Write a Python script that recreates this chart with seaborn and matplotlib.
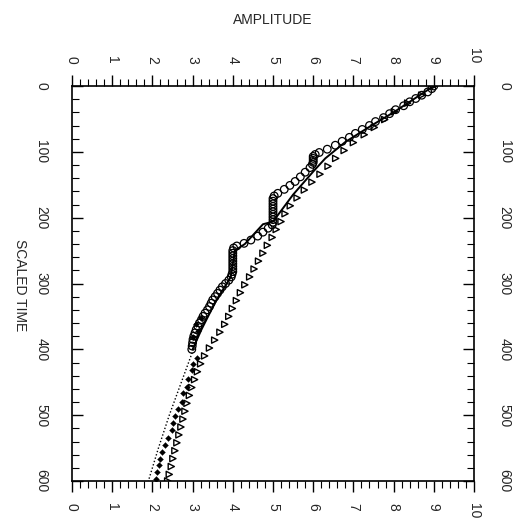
import numpy as np
import matplotlib
matplotlib.use("Agg")
import matplotlib.pyplot as plt
import seaborn as sns
from matplotlib.ticker import MultipleLocator

# ---- data (time, amplitude) ----
circ_t = [0, 4, 9, 14, 19, 24, 30, 36, 42, 48, 54, 60, 66, 72, 78, 84, 90, 96, 101,
          104, 107, 110, 113, 116, 119, 124, 131, 138, 145, 151, 157, 163, 167,
          171, 175, 179, 183, 187, 191, 195, 199, 203, 207, 211, 216, 222, 228, 234,
          239, 243, 246, 250, 254, 258, 262, 266, 270, 274, 278, 282, 286, 290,
          295, 300, 305, 310, 315, 320, 325, 330, 335, 340, 345, 350, 355, 360,
          365, 370, 375, 380, 385, 390, 395, 400]
circ_a = [9.0, 8.95, 8.85, 8.7, 8.55, 8.4, 8.25, 8.05, 7.9, 7.75, 7.55, 7.4, 7.22, 7.05, 6.9, 6.72, 6.55, 6.35, 6.15,
          6.05, 6.0, 6.0, 6.0, 6.0, 5.98, 5.92, 5.8, 5.68, 5.55, 5.42, 5.28, 5.12, 5.03,
          5.0, 5.0, 5.0, 5.0, 5.0, 5.0, 5.0, 5.0, 5.0, 5.0, 4.98, 4.88, 4.75, 4.62, 4.45,
          4.28, 4.1, 4.02, 4.0, 4.0, 4.0, 4.0, 4.0, 4.0, 4.0, 4.0, 4.0, 3.98, 3.96,
          3.9, 3.82, 3.74, 3.68, 3.62, 3.56, 3.5, 3.46, 3.42, 3.37, 3.31, 3.26, 3.22, 3.17,
          3.13, 3.09, 3.06, 3.03, 3.01, 3.0, 2.99, 2.98]

line_t = [0, 20, 40, 60, 85, 110, 130, 165, 206, 210, 240, 250, 290, 330, 370, 400]
line_a = [9.0, 8.5, 8.0, 7.45, 6.8, 6.3, 6.0, 5.5, 5.0, 4.75, 4.3, 4.05, 3.95, 3.55, 3.22, 3.0]

tri_t = [0, 14, 26, 39, 51, 63, 74, 86, 98, 110, 122, 134, 146, 158, 170, 182, 194,
         206, 218, 230, 242, 254, 266, 278, 290, 302, 314, 326, 338, 350, 362, 374,
         386, 398, 410, 422, 434, 446, 458, 470, 482, 494, 506, 518, 530, 542, 554,
         566, 578, 590, 600]
tri_a = [9.0, 8.7, 8.35, 8.02, 7.78, 7.52, 7.27, 7.0, 6.77, 6.56, 6.37, 6.17, 5.97, 5.78, 5.6, 5.43, 5.3,
         5.2, 5.08, 4.98, 4.86, 4.75, 4.64, 4.53, 4.42, 4.3, 4.19, 4.09, 3.99, 3.9, 3.8, 3.68,
         3.55, 3.42, 3.3, 3.2, 3.12, 3.05, 2.98, 2.92, 2.86, 2.81, 2.76, 2.71, 2.66, 2.61, 2.56,
         2.51, 2.47, 2.42, 2.38]

dia_t = [352, 362, 372, 382, 413, 422, 432, 445, 457, 467, 480, 490, 502, 512, 522,
         535, 545, 556, 566, 576, 587, 597]
dia_a = [3.2, 3.08, 3.14, 3.0, 3.1, 3.02, 2.98, 2.89, 2.85, 2.77, 2.73, 2.64, 2.56, 2.52, 2.48,
         2.4, 2.31, 2.25, 2.2, 2.16, 2.12, 2.08]

dot_t = [400, 450, 500, 550, 600]
dot_a = [3.02, 2.72, 2.42, 2.15, 1.9]

amp_ticks = list(range(0, 11))
time_ticks = list(range(0, 601, 100))

# ---- figure ----
sns.set_style("white")
plt.rcParams['font.family'] = ['Liberation Sans', 'DejaVu Sans']
fig = plt.figure(figsize=(5.14, 5.22), dpi=100)
ax = fig.add_axes([72/514, 1-481/522, (474-72)/514, (481-86)/522])

sns.lineplot(x=line_a, y=line_t, sort=False, estimator=None, color='black', lw=1.4, ax=ax)
sns.lineplot(x=dot_a, y=dot_t, sort=False, estimator=None, color='black', lw=1.0,
             linestyle=(0, (1, 1.5)), ax=ax)
sns.scatterplot(x=circ_a, y=circ_t, marker='o', s=30, facecolors='none', edgecolors='black',
                linewidth=0.9, ax=ax)
sns.scatterplot(x=tri_a, y=tri_t, marker='>', s=20, facecolors='none', edgecolors='black',
                linewidth=1.0, ax=ax)
sns.scatterplot(x=dia_a, y=dia_t, marker='D', s=9, color='black', edgecolor='black', ax=ax)

ax.set_xlim(0, 10)
ax.set_ylim(600, 0)
ax.set_xticks(amp_ticks)
ax.set_yticks(time_ticks)
ax.xaxis.set_minor_locator(MultipleLocator(0.2))
ax.yaxis.set_minor_locator(MultipleLocator(20))
ax.tick_params(axis='x', which='both', direction='out', top=True, bottom=True,
               labeltop=True, labelbottom=True, labelsize=10, labelrotation=-90,
               color='black', pad=8)
ax.tick_params(axis='x', which='major', length=8, width=1)
ax.tick_params(axis='x', which='minor', length=5, width=0.8)
ax.tick_params(axis='y', which='both', direction='in', left=True, right=True,
               labelleft=True, labelright=True, labelsize=10, labelrotation=-90,
               color='black', pad=17)
ax.tick_params(axis='y', which='major', length=8, width=1)
ax.tick_params(axis='y', which='minor', length=5, width=0.8)
for lab in ax.get_yticklabels():
    lab.set_va('center')
for sp in ax.spines.values():
    sp.set_color('black')
    sp.set_linewidth(1.2)
ax.set_xlabel('')
ax.set_ylabel('')

fig.text(273/514, 1-20/522, 'AMPLITUDE', ha='center', va='center', fontsize=10)
fig.text(20/514, 1-285/522, 'SCALED TIME', ha='center', va='center', fontsize=10, rotation=-90)

fig.savefig('out.png', dpi=100)
